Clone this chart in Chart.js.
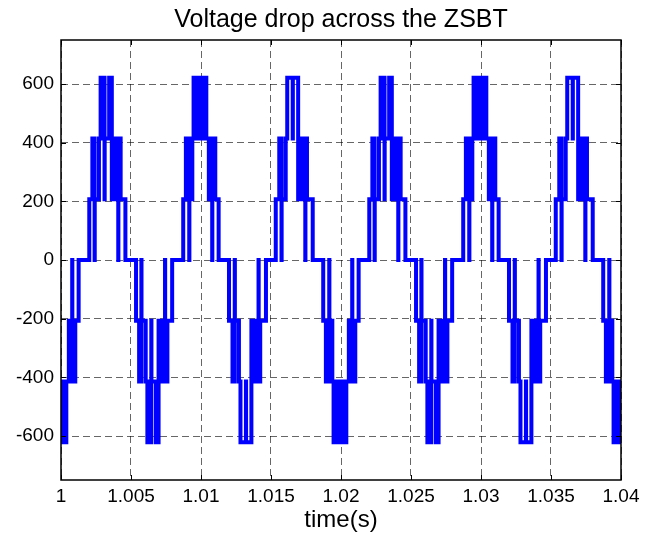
<!DOCTYPE html>
<html>
<head>
<meta charset="utf-8">
<title>Voltage drop across the ZSBT</title>
<script src="https://cdn.jsdelivr.net/npm/chart.js@4.4.1/dist/chart.umd.min.js"></script>
<style>
  html, body { margin: 0; padding: 0; background: #fff; }
  #wrap { width: 659px; height: 540px; }
</style>
</head>
<body>
<div id="wrap"><canvas id="zsbt" width="659" height="540"></canvas></div>
<script>
// ----------------- Data -----------------
const chartTitle = 'Voltage drop across the ZSBT';
const xAxisTitle = 'time(s)';

const xTicks = [1, 1.005, 1.01, 1.015, 1.02, 1.025, 1.03, 1.035, 1.04];
const xTickLabels = ['1', '1.005', '1.01', '1.015', '1.02', '1.025', '1.03', '1.035', '1.04'];
const yTicks = [-600, -400, -200, 0, 200, 400, 600];
const yTickLabels = ['-600', '-400', '-200', '0', '200', '400', '600'];

// switching instants (s) and the level reached at each instant (V)
const timeSec = [
  // negative half, dense top (tail)
  0.99990, 0.99994, 0.99996, 1.00002, 1.00004, 1.00010, 1.00012, 1.00018, 1.00020, 1.00026, 1.00028,
  1.00038, 1.00056, 1.00080, 1.00081, 1.00102, 1.00126,
  // positive half 1
  1.00202, 1.00224, 1.00240, 1.00241, 1.00271, 1.00283, 1.00311, 1.00312, 1.00344, 1.00363, 1.00364,
  1.00388, 1.00409, 1.00410, 1.00426, 1.00460,
  // negative half 1
  1.00536, 1.00558, 1.00574, 1.00575, 1.00605, 1.00617, 1.00645, 1.00646, 1.00678, 1.00697, 1.00698,
  1.00722, 1.00743, 1.00744, 1.00760, 1.00794,
  // positive half 2 (dense)
  1.00873, 1.00892, 1.00916, 1.00917, 1.00938, 1.00947, 1.00954, 1.00956, 1.00962, 1.00964, 1.00970,
  1.00972, 1.00978, 1.00980, 1.00986, 1.00988, 1.00994, 1.00996, 1.01002, 1.01004, 1.01010, 1.01012,
  1.01018, 1.01020, 1.01026, 1.01028, 1.01038, 1.01056, 1.01080, 1.01081, 1.01102, 1.01126,
  // negative half 2
  1.01200, 1.01225, 1.01241, 1.01242, 1.01271, 1.01282, 1.01321, 1.01322, 1.01360, 1.01361, 1.01385,
  1.01411, 1.01412, 1.01423, 1.01464,
  // positive half 3
  1.01534, 1.01559, 1.01575, 1.01576, 1.01605, 1.01616, 1.01655, 1.01656, 1.01694, 1.01695, 1.01719,
  1.01745, 1.01746, 1.01757, 1.01798,
  // negative half 3 (dense)
  1.01873, 1.01892, 1.01916, 1.01917, 1.01938, 1.01947, 1.01954, 1.01956, 1.01962, 1.01964, 1.01970,
  1.01972, 1.01978, 1.01980, 1.01986, 1.01988, 1.01994, 1.01996, 1.02002, 1.02004, 1.02010, 1.02012,
  1.02018, 1.02020, 1.02026, 1.02028, 1.02038, 1.02056, 1.02080, 1.02081, 1.02102, 1.02126,
  // positive half 4
  1.02202, 1.02224, 1.02240, 1.02241, 1.02271, 1.02283, 1.02311, 1.02312, 1.02344, 1.02363, 1.02364,
  1.02388, 1.02409, 1.02410, 1.02426, 1.02460,
  // negative half 4
  1.02536, 1.02558, 1.02574, 1.02575, 1.02605, 1.02617, 1.02645, 1.02646, 1.02678, 1.02697, 1.02698,
  1.02722, 1.02743, 1.02744, 1.02760, 1.02794,
  // positive half 5 (dense)
  1.02873, 1.02892, 1.02916, 1.02917, 1.02938, 1.02947, 1.02954, 1.02956, 1.02962, 1.02964, 1.02970,
  1.02972, 1.02978, 1.02980, 1.02986, 1.02988, 1.02994, 1.02996, 1.03002, 1.03004, 1.03010, 1.03012,
  1.03018, 1.03020, 1.03026, 1.03028, 1.03038, 1.03056, 1.03080, 1.03081, 1.03102, 1.03126,
  // negative half 5
  1.03200, 1.03225, 1.03241, 1.03242, 1.03271, 1.03282, 1.03321, 1.03322, 1.03360, 1.03361, 1.03385,
  1.03411, 1.03412, 1.03423, 1.03464,
  // positive half 6
  1.03534, 1.03559, 1.03575, 1.03576, 1.03605, 1.03616, 1.03655, 1.03656, 1.03694, 1.03695, 1.03719,
  1.03745, 1.03746, 1.03757, 1.03798,
  // negative half 6 (dense, head)
  1.03873, 1.03892, 1.03916, 1.03917, 1.03938, 1.03947, 1.03954, 1.03956, 1.03962, 1.03964, 1.03970,
  1.03972, 1.03978, 1.03980, 1.03986, 1.03988, 1.03994, 1.03996, 1.04002, 1.04004
];

const voltage = [
  -621, -414, -621, -414, -621, -414, -621, -414, -621, -414, -621,
  -414, -207, 0, -414, -207, 0,

  207, 414, 0, 207, 414, 621, 207, 414, 621, 207, 414,
  207, 0, 414, 207, 0,

  -207, -414, 0, -207, -414, -621, -207, -414, -621, -207, -414,
  -207, 0, -414, -207, 0,

  207, 414, 0, 207, 414, 621, 414, 621, 414, 621, 414,
  621, 414, 621, 414, 621, 414, 621, 414, 621, 414, 621,
  414, 621, 414, 621, 414, 207, 0, 414, 207, 0,

  -207, -414, 0, -207, -414, -621, -414, -621, -207, -414, -207,
  0, -414, -207, 0,

  207, 414, 0, 207, 414, 621, 414, 621, 207, 414, 207,
  0, 414, 207, 0,

  -207, -414, 0, -207, -414, -621, -414, -621, -414, -621, -414,
  -621, -414, -621, -414, -621, -414, -621, -414, -621, -414, -621,
  -414, -621, -414, -621, -414, -207, 0, -414, -207, 0,

  207, 414, 0, 207, 414, 621, 207, 414, 621, 207, 414,
  207, 0, 414, 207, 0,

  -207, -414, 0, -207, -414, -621, -207, -414, -621, -207, -414,
  -207, 0, -414, -207, 0,

  207, 414, 0, 207, 414, 621, 414, 621, 414, 621, 414,
  621, 414, 621, 414, 621, 414, 621, 414, 621, 414, 621,
  414, 621, 414, 621, 414, 207, 0, 414, 207, 0,

  -207, -414, 0, -207, -414, -621, -414, -621, -207, -414, -207,
  0, -414, -207, 0,

  207, 414, 0, 207, 414, 621, 414, 621, 207, 414, 207,
  0, 414, 207, 0,

  -207, -414, 0, -207, -414, -621, -414, -621, -414, -621, -414,
  -621, -414, -621, -414, -621, -414, -621, -414, -621
];

// ----------------- Styling -----------------
const FONT = "'Liberation Sans', Arial, Helvetica, sans-serif";

// MATLAB-like axes box with inward ticks, title centred over the plot area
const boxPlugin = {
  id: 'axesBox',
  afterDatasetsDraw(chart) {
    const { ctx, chartArea: a, scales: { x, y } } = chart;
    ctx.save();
    ctx.strokeStyle = '#000';
    ctx.lineWidth = 1;
    ctx.beginPath();
    x.ticks.forEach(t => {
      const px = Math.round(x.getPixelForValue(t.value)) + 0.5;
      ctx.moveTo(px, a.bottom); ctx.lineTo(px, a.bottom - 5);
      ctx.moveTo(px, a.top); ctx.lineTo(px, a.top + 5);
    });
    y.ticks.forEach(t => {
      const py = Math.round(y.getPixelForValue(t.value)) + 0.5;
      ctx.moveTo(a.left, py); ctx.lineTo(a.left + 5, py);
      ctx.moveTo(a.right, py); ctx.lineTo(a.right - 5, py);
    });
    ctx.stroke();
    ctx.lineWidth = 1.5;
    ctx.strokeRect(a.left, a.top, a.right - a.left, a.bottom - a.top);

    ctx.fillStyle = '#000';
    ctx.font = `25px ${FONT}`;
    ctx.textAlign = 'center';
    ctx.textBaseline = 'alphabetic';
    ctx.fillText(chartTitle, (a.left + a.right) / 2, 27);
    ctx.restore();
  }
};

const gridStyle = { color: 'rgba(0,0,0,0.6)', lineWidth: 1, drawTicks: false };

new Chart(document.getElementById('zsbt').getContext('2d'), {
  type: 'line',
  data: {
    datasets: [{
      data: timeSec.map((t, i) => ({ x: t, y: voltage[i] })),
      borderColor: '#0000ff',
      borderWidth: 4,
      stepped: true,
      pointRadius: 0,
      fill: false,
      borderJoinStyle: 'miter',
      borderCapStyle: 'butt'
    }]
  },
  options: {
    responsive: false,
    animation: false,
    events: [],
    layout: { padding: { left: 0, right: 38, top: 40, bottom: 0 } },
    plugins: {
      legend: { display: false },
      tooltip: { enabled: false },
      title: { display: false }
    },
    scales: {
      x: {
        type: 'linear',
        min: 1,
        max: 1.04,
        afterBuildTicks: s => { s.ticks = xTicks.map(v => ({ value: v })); },
        afterFit: s => { s.height = 60; },
        ticks: {
          callback: (v, i) => xTickLabels[i],
          color: '#000',
          font: { family: FONT, size: 19 },
          padding: 5,
          maxRotation: 0,
          autoSkip: false
        },
        grid: gridStyle,
        border: { display: false, dash: [7, 4] },
        title: {
          display: true,
          text: xAxisTitle,
          color: '#000',
          font: { family: FONT, size: 24 },
          padding: { top: 0, bottom: 5 }
        }
      },
      y: {
        min: -750,
        max: 750,
        afterBuildTicks: s => { s.ticks = yTicks.map(v => ({ value: v })); },
        afterFit: s => { s.width = 61; },
        ticks: {
          callback: (v, i) => yTickLabels[i],
          color: '#000',
          font: { family: FONT, size: 19 },
          padding: 7,
          autoSkip: false
        },
        grid: gridStyle,
        border: { display: false, dash: [7, 4] }
      }
    }
  },
  plugins: [boxPlugin]
});
</script>
</body>
</html>
